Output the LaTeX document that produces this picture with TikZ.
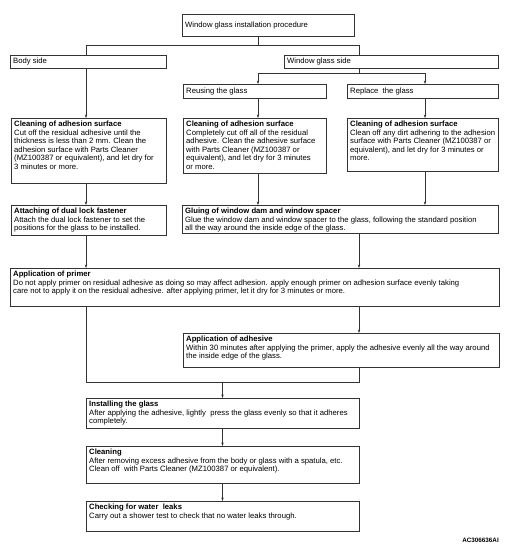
\documentclass[tikz,border=0pt]{standalone}
\usepackage{fontspec}
\setmainfont{Liberation Sans}
\usetikzlibrary{arrows.meta,calc}
\newcommand\mybox[6]{%
  \node[box,minimum width=#4pt,minimum height=#5pt] (#1) at (#2,#3) {};
  \node[txt] (#1-t) at ([xshift=3pt,yshift=-3.2pt]#1.north west) {#6};}
\newcommand\mylinebox[6]{%
  \node[box,minimum width=#4pt,minimum height=#5pt] (#1) at (#2,#3) {};
  \node[one] (#1-t) at ([xshift=3pt]#1.west) {#6};}
\begin{document}
\begin{tikzpicture}[x=1pt,y=-1pt,
  box/.style={draw=black!80,line width=0.6pt,inner sep=0pt,anchor=north west},
  txt/.style={anchor=north west,inner sep=0pt,align=left,font=\fontsize{7.7}{8.5}\selectfont},
  one/.style={anchor=west,inner sep=0pt,font=\fontsize{7.7}{8.5}\selectfont},
  ln/.style={draw=black!80,line width=0.5pt},
  arr/.style={ln,-{Stealth[length=3.5pt,width=2.4pt]}}]
\useasboundingbox (0,0) rectangle (505,546);

\mylinebox{title}{182}{14}{172}{22}{Window glass installation procedure}
\mylinebox{body}{10}{55}{156}{13}{Body side}
\mylinebox{wside}{284}{55}{214}{13}{Window glass side}
\mylinebox{reuse}{183}{84}{143}{14}{Reusing the glass}
\mylinebox{replace}{347}{84}{151}{14}{Replace\ \ the glass}

\mybox{clL}{11}{118}{155}{65}{\textbf{Cleaning of adhesion surface}\\Cut off the residual adhesive until the\\thickness is less than 2 mm. Clean the\\adhesion surface with Parts Cleaner\\(MZ100387 or equivalent), and let dry for\\3 minutes or more.}
\mybox{clR}{183}{118}{143}{55}{\textbf{Cleaning of adhesion surface}\\Completely cut off all of the residual\\adhesive. Clean the adhesive surface\\with Parts Cleaner (MZ100387 or\\equivalent), and let dry for 3 minutes\\or more.}
\mybox{clP}{347}{118}{151}{53}{\textbf{Cleaning of adhesion surface}\\Clean off any dirt adhering to the adhesion\\surface with Parts Cleaner (MZ100387 or\\equivalent), and let dry for 3 minutes or\\more.}
\mybox{attach}{11}{205}{155}{30}{\textbf{Attaching of dual lock fastener}\\Attach the dual lock fastener to set the\\positions for the glass to be installed.}
\mybox{glue}{182}{205}{316}{28}{\textbf{Gluing of window dam and window spacer}\\Glue the window dam and window spacer to the glass, following the standard position\\all the way around the inside edge of the glass.}
\mybox{primer}{10}{268}{489}{38}{\textbf{Application of primer}\\Do not apply primer on residual adhesive as doing so may affect adhesion. apply enough primer on adhesion surface evenly taking\\care not to apply it on the residual adhesive. after applying primer, let it dry for 3 minutes or more.}
\mybox{adhes}{183}{333}{316}{34}{\textbf{Application of adhesive}\\Within 30 minutes after applying the primer, apply the adhesive evenly all the way around\\the inside edge of the glass.}
\mybox{install}{86}{398}{273}{30}{\textbf{Installing the glass}\\After applying the adhesive, lightly\ \ press the glass evenly so that it adheres\\completely.}
\mybox{clean}{86}{446}{273}{37}{\textbf{Cleaning}\\After removing excess adhesive from the body or glass with a spatula, etc.\\Clean off\ \ with Parts Cleaner (MZ100387 or equivalent).}
\mybox{check}{86}{501}{273}{30}{\textbf{Checking for water\ \ leaks}\\Carry out a shower test to check that no water leaks through.}

\node[anchor=base east,inner sep=0pt,font=\bfseries\fontsize{6.3}{7}\selectfont] (code) at (499,542) {AC306636AI};

\coordinate (cA) at (86,0);
\coordinate (cB) at (258,0);
\coordinate (cC) at (359,0);
\coordinate (cD) at (425,0);
\coordinate (cE) at (222.5,0);
\coordinate (j1) at (0,45);
\coordinate (j2) at (0,73);
\coordinate (j3) at (0,382);

\draw[ln] (title.south -| cB) -- (j1 -| cB);
\draw[ln] (body.north -| cA) -- (j1 -| cA) -- (j1 -| cC) -- (wside.north -| cC);
\draw[ln] (wside.south -| cC) -- (j2 -| cC);
\draw[ln] (j2 -| cB) -- (j2 -| cD);
\draw[arr] (j2 -| cB) -- (reuse.north -| cB);
\draw[arr] (j2 -| cD) -- (replace.north -| cD);
\draw[arr] (body.south -| cA) -- (clL.north -| cA);
\draw[arr] (reuse.south -| cB) -- (clR.north -| cB);
\draw[arr] (replace.south -| cD) -- (clP.north -| cD);
\draw[arr] (clL.south -| cA) -- (attach.north -| cA);
\draw[arr] (clR.south -| cB) -- (glue.north -| cB);
\draw[arr] (clP.south -| cD) -- (glue.north -| cD);
\draw[arr] (attach.south -| cA) -- (primer.north -| cA);
\draw[arr] (glue.south -| cC) -- (primer.north -| cC);
\draw[arr] (primer.south -| cC) -- (adhes.north -| cC);
\draw[ln] (primer.south -| cA) -- (j3 -| cA) -- (j3 -| cC) -- (adhes.south -| cC);
\draw[arr] (j3 -| cE) -- (install.north -| cE);
\draw[arr] (install.south -| cE) -- (clean.north -| cE);
\draw[arr] (clean.south -| cE) -- (check.north -| cE);
\end{tikzpicture}
\end{document}
